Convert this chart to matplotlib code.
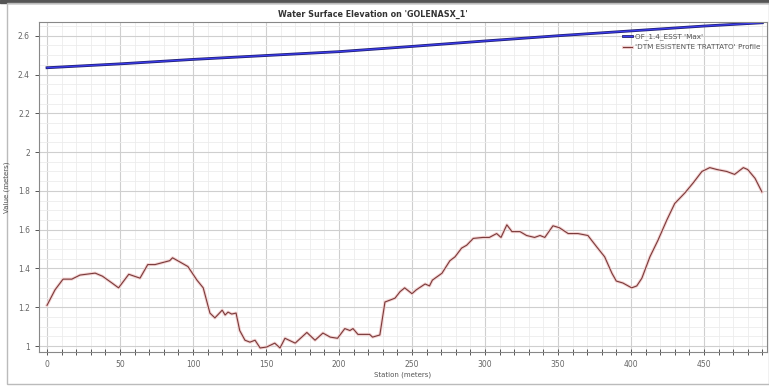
import matplotlib
matplotlib.use("Agg")
import matplotlib.pyplot as plt
import matplotlib.patheffects as pe
from matplotlib.ticker import MultipleLocator
from matplotlib.patches import Rectangle

# Profilo massimo del pelo libero (blu)
wse_station = [0, 50, 100, 150, 200, 250, 300, 350, 400, 450, 490]
wse_value = [2.435, 2.455, 2.478, 2.498, 2.518, 2.545, 2.573, 2.600, 2.625, 2.650, 2.667]

# Profilo del terreno (rosso)
dtm_station = [0, 5.5, 11, 17, 22.6, 33, 38, 44.5, 49, 56, 63.7, 69, 74, 79, 84, 86,
               96.5, 102.7, 107, 111.6, 115, 120, 122, 124, 126.5, 129.5, 132, 135.6,
               139, 142.5, 146, 150.5, 156, 159.6, 163, 170, 178, 183.6, 189, 194,
               199, 204, 207.5, 209.6, 213, 221, 223, 228, 231.5, 235, 238.4, 241.8,
               245, 250, 253, 259, 262, 264, 270.5, 276, 279.5, 284, 287.5, 292,
               298.6, 303, 308, 311, 315, 318.5, 324, 328.5, 334, 337.7, 341, 346.6,
               351, 357, 363.7, 370.5, 376.7, 382, 387, 390, 394.5, 400.5, 404,
               407.5, 413, 418.5, 424.6, 430, 437, 442.5, 448.6, 454, 459, 465.7,
               471, 477, 480, 485, 489.7]
dtm_value = [1.21, 1.29, 1.345, 1.345, 1.366, 1.376, 1.36, 1.325, 1.30, 1.37, 1.35,
             1.42, 1.42, 1.43, 1.44, 1.455, 1.41, 1.34, 1.30, 1.17, 1.145, 1.185,
             1.16, 1.175, 1.165, 1.17, 1.08, 1.03, 1.02, 1.03, 0.99, 0.995, 1.015,
             0.99, 1.04, 1.015, 1.07, 1.03, 1.067, 1.046, 1.04, 1.09, 1.08, 1.09,
             1.06, 1.06, 1.046, 1.057, 1.227, 1.237, 1.247, 1.28, 1.30, 1.27, 1.29,
             1.32, 1.31, 1.34, 1.375, 1.44, 1.46, 1.505, 1.52, 1.555, 1.56, 1.56,
             1.58, 1.56, 1.625, 1.59, 1.59, 1.57, 1.56, 1.57, 1.56, 1.62, 1.61,
             1.58, 1.58, 1.57, 1.51, 1.46, 1.375, 1.335, 1.325, 1.30, 1.31, 1.35,
             1.46, 1.545, 1.65, 1.735, 1.79, 1.84, 1.90, 1.92, 1.91, 1.90, 1.885,
             1.92, 1.91, 1.865, 1.795]

title = "Water Surface Elevation on 'GOLENASX_1'"
wse_label = "OF_1.4_ESST 'Max'"
dtm_label = "'DTM ESISTENTE TRATTATO' Profile"

fig = plt.figure(figsize=(7.69, 3.89), dpi=100)
ax = fig.add_axes([0.0507, 0.095, 0.9463, 0.848])

# Cornice della finestra
fig.patches.append(Rectangle((0, 0.992), 1, 0.008, transform=fig.transFigure,
                             color='#555555', zorder=-1))
fig.patches.append(Rectangle((0.009, 0.012), 0.991, 0.98, transform=fig.transFigure,
                             fill=False, edgecolor='#bbbbbb', lw=1, zorder=-1))

ax.plot(wse_station, wse_value, color='#3c3cf0', lw=0.9, label=wse_label,
        path_effects=[pe.Stroke(linewidth=2.0, foreground='#1e1e70'), pe.Normal()])
ax.plot(dtm_station, dtm_value, color='#7a3a3a', lw=0.8, label=dtm_label,
        path_effects=[pe.Stroke(linewidth=2.2, foreground='#f3d2d2'), pe.Normal()])

ax.set_xlim(-5.5, 493)
ax.set_ylim(0.969, 2.67)
ax.xaxis.set_major_locator(MultipleLocator(50))
ax.xaxis.set_minor_locator(MultipleLocator(10))
ax.yaxis.set_major_locator(MultipleLocator(0.2))
ax.yaxis.set_minor_locator(MultipleLocator(0.05))
ax.yaxis.set_major_formatter(lambda v, p: f"{v:g}")

ax.grid(which='major', color='#cfcfcf', lw=0.8)
ax.grid(which='minor', color='#ececec', lw=0.6)
ax.set_axisbelow(True)

ax.tick_params(which='both', labelsize=5.5, labelcolor='#666666', color='#555555',
               length=3, width=0.7)
ax.tick_params(axis='x', which='both', direction='inout', length=4)
ax.tick_params(axis='y', which='minor', length=0)
for s in ax.spines.values():
    s.set_color('#888888')
    s.set_linewidth(0.8)

ax.set_xlabel("Station (meters)", fontsize=5, color='#555555', labelpad=2)
ax.set_ylabel("Value (meters)", fontsize=5, color='#555555', labelpad=6)
fig.text(0.485, 0.963, title, ha='center', va='center', fontsize=5.8,
         fontweight='bold', color='#333333')

leg = ax.legend(loc='upper right', bbox_to_anchor=(1.0, 0.985), frameon=False,
                fontsize=5.2, handlelength=1.2, handletextpad=0.4, labelspacing=0.5)
for t in leg.get_texts():
    t.set_color('#555555')

fig.savefig("out.png", dpi=100)
